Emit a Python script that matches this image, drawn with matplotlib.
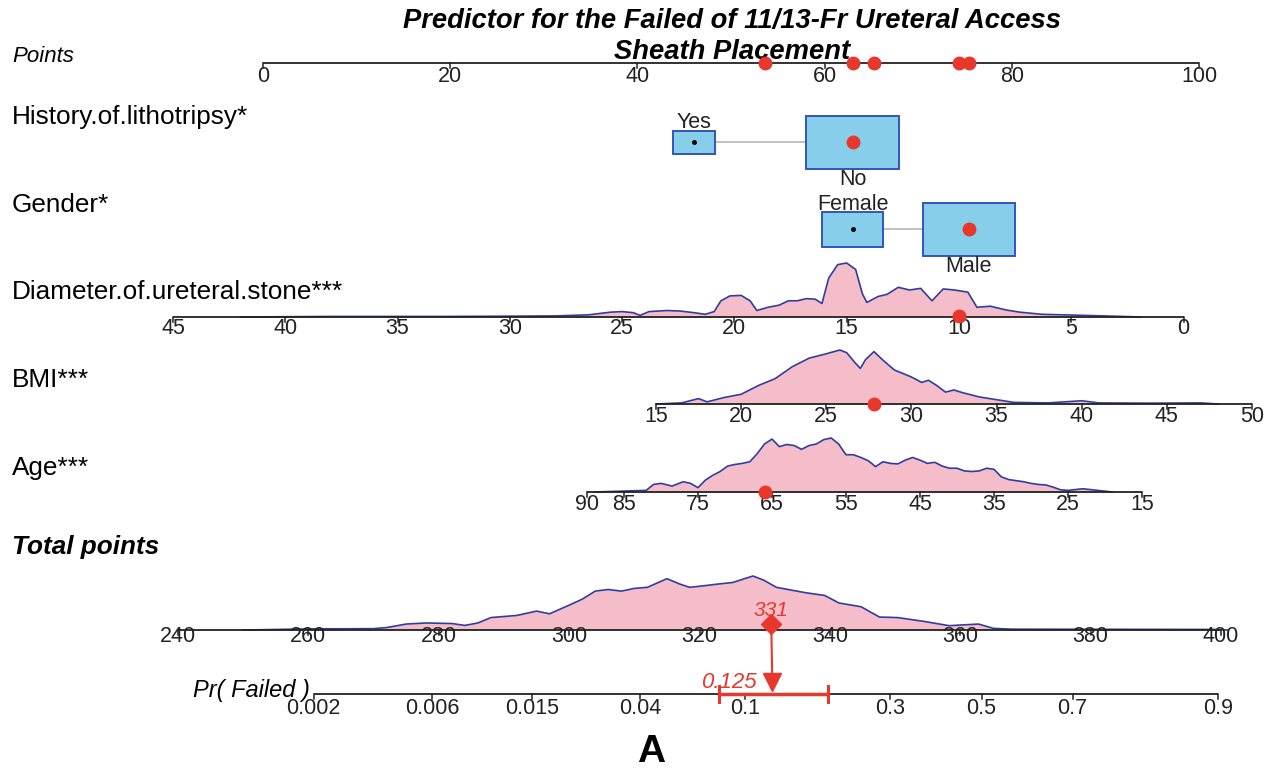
import numpy as np
import matplotlib
matplotlib.use('Agg')
import matplotlib.pyplot as plt
from matplotlib.patches import Rectangle

plt.rcParams['font.family'] = ['Liberation Sans', 'DejaVu Sans']

# ---- values ----
points_ticks = [0, 20, 40, 60, 80, 100]

history_levels = ['Yes', 'No']
history_points = [46.0, 63.0]
gender_levels = ['Female', 'Male']
gender_points = [63.0, 75.4]

diam_ticks = [45, 40, 35, 30, 25, 20, 15, 10, 5, 0]
diam_x = [42, 38, 33, 30, 28, 26.5, 25.5, 25, 24.5, 24.2, 23.8, 23, 22.4, 21.8, 21.3,
          20.9, 20.6, 20.2, 19.7, 19.3, 19.0, 18.5, 18.0, 17.6, 17.2, 16.8, 16.4, 16.1,
          15.8, 15.4, 15.0, 14.6, 14.3, 14.1, 13.6, 13.2, 12.7, 12.2, 11.7, 11.2, 10.7,
          10.2, 9.6, 9.2, 8.6, 7.9, 7.3, 6.3, 4.4, 1.9]
diam_dens = [0.0, 0.01, 0.01, 0.015, 0.02, 0.04, 0.09, 0.1, 0.08, 0.03, 0.1, 0.12, 0.11, 0.08, 0.05,
             0.1, 0.3, 0.39, 0.4, 0.3, 0.12, 0.18, 0.22, 0.3, 0.3, 0.34, 0.33, 0.25,
             0.72, 0.97, 1.0, 0.88, 0.43, 0.27, 0.38, 0.42, 0.55, 0.5, 0.53, 0.3, 0.52,
             0.5, 0.46, 0.18, 0.2, 0.13, 0.09, 0.05, 0.03, 0.0]

bmi_ticks = [15, 20, 25, 30, 35, 40, 45, 50]
bmi_x = [15, 16.5, 17.5, 18, 19, 20, 21, 22, 23, 24, 25, 25.8, 26.2, 26.7, 27, 27.3, 27.8,
         28.3, 29, 30, 30.6, 31, 31.5, 32, 32.5, 33, 34, 35, 36, 38, 40, 41, 44, 47, 48]
bmi_dens = [0.0, 0.02, 0.1, 0.04, 0.12, 0.18, 0.34, 0.47, 0.69, 0.85, 0.93, 1.0, 0.95, 0.76,
            0.66, 0.82, 0.97, 0.82, 0.63, 0.5, 0.4, 0.44, 0.34, 0.22, 0.26, 0.21, 0.13, 0.08,
            0.03, 0.02, 0.06, 0.02, 0.015, 0.02, 0.0]

age_ticks = [90, 85, 75, 65, 55, 45, 35, 25, 15]
age_x = [89, 82, 81, 80, 78.5, 77, 76, 75, 74, 73, 72, 71, 70, 69, 68, 67, 66, 65, 64, 63, 62,
         61, 60, 59, 58, 57, 56, 55, 54, 53, 52, 51, 50, 49, 48, 47, 46, 45, 44, 43, 42, 41,
         40, 39, 38, 37, 36, 35, 34, 33, 32, 31, 30, 29, 28, 27, 26, 25, 23, 21, 19]
age_dens = [0.0, 0.03, 0.14, 0.16, 0.11, 0.19, 0.16, 0.08, 0.22, 0.31, 0.38, 0.48, 0.51, 0.53,
            0.56, 0.71, 0.89, 0.98, 0.84, 0.88, 0.86, 0.79, 0.86, 0.89, 0.97, 1.0, 0.89, 0.69,
            0.69, 0.64, 0.58, 0.47, 0.56, 0.53, 0.52, 0.59, 0.64, 0.59, 0.53, 0.55, 0.48, 0.44,
            0.44, 0.39, 0.38, 0.39, 0.44, 0.42, 0.28, 0.23, 0.21, 0.19, 0.16, 0.14, 0.13, 0.09,
            0.04, 0.03, 0.06, 0.03, 0.0]

total_ticks = [240, 260, 280, 300, 320, 340, 360, 380, 400]
total_x = [250, 260, 270, 272, 275, 278, 282, 284, 286, 288, 292, 295, 297, 300, 302, 304, 306,
           308, 310, 312, 315, 317, 318.5, 320, 322.8, 325.1, 328.2, 329.9, 331.8, 336.3, 339.2,
           341.4, 344.8, 347.6, 350.4, 354.4, 358.3, 362.8, 365.1, 367.9, 398.9, 401]
total_dens = [0.0, 0.02, 0.025, 0.045, 0.11, 0.13, 0.12, 0.085, 0.13, 0.23, 0.27, 0.35, 0.30,
              0.46, 0.57, 0.72, 0.75, 0.72, 0.77, 0.79, 0.95, 0.85, 0.79, 0.81, 0.85, 0.88, 1.0,
              0.92, 0.79, 0.69, 0.64, 0.50, 0.43, 0.24, 0.23, 0.16, 0.08, 0.11, 0.03, 0.015,
              0.01, 0.0]

pr_ticks = [0.002, 0.006, 0.015, 0.04, 0.1, 0.3, 0.5, 0.7, 0.9]

# the patient marked in red
pt_history = 'No'
pt_gender = 'Male'
pt_diam = 10
pt_bmi = 27.8
pt_age = 66
pt_total = 331
pt_pr = 0.125
pt_pr_ci = (0.080, 0.193)

# ---- layout (pixel canvas) ----
RED = '#E8372C'
BLUE = '#2E3D9E'
PINK = '#F5BCC9'
BOXFILL = '#87CEEB'
BOXEDGE = '#3355B5'
TICK_FS = 15.5
LAB_FS = 18.8
DENS_H = 54


def lin(v0, x0, v1, x1):
    return lambda v: x0 + (np.asarray(v, float) - v0) * (x1 - x0) / (v1 - v0)


def logit(p):
    p = np.asarray(p, float)
    return np.log(p / (1 - p))


pts_f = lin(0, 263, 100, 1199)
diam_f = lin(45, 173, 0, 1183.5)
bmi_f = lin(15, 656, 50, 1252)
age_f = lin(90, 587, 15, 1142)
tot_f = lin(240, 178, 400, 1221)
pr_f = lambda p: 981.5 + 107.5 * logit(p)

fig = plt.figure(figsize=(12.73, 7.71), dpi=100)
ax = fig.add_axes([0, 0, 1, 1])
ax.set_xlim(0, 1273)
ax.set_ylim(771, 0)
ax.axis('off')


def draw_axis(f, y, ticks, labels=None, ly=None, x0=None, x1=None):
    if labels is None:
        labels = [str(t) for t in ticks]
    xs = f(ticks)
    a = xs.min() if x0 is None else x0
    b = xs.max() if x1 is None else x1
    ax.plot([a, b], [y, y], color='#222222', lw=1.3, zorder=3, solid_capstyle='butt')
    for xx, lab in zip(xs, labels):
        ax.plot([xx, xx], [y, y + 5], color='#222222', lw=1.1, zorder=3)
        ax.text(xx, ly, lab, ha='center', va='center', fontsize=TICK_FS, color='#222222')


def draw_density(f, y, xv, dv):
    xs = f(xv)
    ys = y - np.asarray(dv) * DENS_H
    ax.fill_between(xs, ys, y, color=PINK, lw=0, zorder=1)
    ax.plot(xs, ys, color=BLUE, lw=1.2, zorder=2)


# title
ax.text(732, 21, 'Predictor for the Failed of 11/13-Fr Ureteral Access', ha='center', va='center',
        fontsize=19.7, fontweight='bold', fontstyle='italic', zorder=2)
ax.text(732, 52, 'Sheath Placement', ha='center', va='center',
        fontsize=19.7, fontweight='bold', fontstyle='italic', zorder=2)

# row labels
ax.text(12, 56, 'Points', fontsize=16, fontstyle='italic', va='center')
ax.text(12, 117, 'History.of.lithotripsy*', fontsize=LAB_FS, va='center')
ax.text(12, 205, 'Gender*', fontsize=LAB_FS, va='center')
ax.text(12, 292, 'Diameter.of.ureteral.stone***', fontsize=LAB_FS, va='center')
ax.text(12, 380, 'BMI***', fontsize=LAB_FS, va='center')
ax.text(12, 468, 'Age***', fontsize=LAB_FS, va='center')
ax.text(12, 547, 'Total points', fontsize=LAB_FS, fontweight='bold', fontstyle='italic', va='center')
ax.text(193, 691, 'Pr( Failed )', fontsize=17, fontstyle='italic', va='center')

# points scale
draw_axis(pts_f, 63, points_ticks, ly=77)

# categorical rows: boxes
box_w = {'Yes': 42, 'No': 93, 'Female': 61, 'Male': 92}
box_h = {'Yes': 23, 'No': 53, 'Female': 35, 'Male': 53}


def draw_boxes(levels, pts, y, chosen, label_pos):
    xs = pts_f(pts)
    ax.plot(xs, [y, y], color='#BBBBBB', lw=1.3, zorder=1)
    for xx, lev, pos in zip(xs, levels, label_pos):
        w, h = box_w[lev], box_h[lev]
        ax.add_patch(Rectangle((xx - w / 2, y - h / 2), w, h, facecolor=BOXFILL,
                               edgecolor=BOXEDGE, lw=1.4, zorder=2))
        ly = y - h / 2 - 7.5 if pos == 'above' else y + h / 2 + 11
        ax.text(xx, ly, lev, ha='center', va='center', fontsize=15.5, color='#222222', zorder=4)
        if lev == chosen:
            ax.plot(xx, y, 'o', color=RED, ms=9, zorder=5)
        else:
            ax.plot(xx, y, 'o', color='black', ms=2.5, zorder=5)
    return xs[levels.index(chosen)]


hx = draw_boxes(history_levels, history_points, 142, pt_history, ['above', 'below'])
gx = draw_boxes(gender_levels, gender_points, 229, pt_gender, ['above', 'below'])

# continuous rows
draw_density(diam_f, 317, diam_x, diam_dens)
draw_axis(diam_f, 317, diam_ticks, ly=329)
dx = float(diam_f(pt_diam))
ax.plot(dx, 316, 'o', color=RED, ms=9, zorder=5)

draw_density(bmi_f, 404, bmi_x, bmi_dens)
draw_axis(bmi_f, 404, bmi_ticks, ly=416)
bx = float(bmi_f(pt_bmi))
ax.plot(bx, 404, 'o', color=RED, ms=9, zorder=5)

draw_density(age_f, 492, age_x, age_dens)
draw_axis(age_f, 492, age_ticks, ly=504)
axx = float(age_f(pt_age))
ax.plot(axx, 492, 'o', color=RED, ms=9, zorder=5)

# red dots on the points scale
for xx in [hx, gx, dx, bx, axx]:
    ax.plot(xx, 63, 'o', color=RED, ms=9, zorder=6)

# total points
draw_density(tot_f, 630, total_x, total_dens)
draw_axis(tot_f, 630, total_ticks, ly=637)
tx = float(tot_f(pt_total))
ax.text(tx, 611, str(pt_total), ha='center', va='center', fontsize=15, fontstyle='italic',
        color=RED, zorder=6)

# probability scale
draw_axis(pr_f, 694, pr_ticks, labels=[('%g' % p) for p in pr_ticks], ly=709)
px = float(pr_f(pt_pr))
ax.plot([tx, px], [624, 680], color=RED, lw=1.5, zorder=6)
ax.plot(tx, 624, 'D', color=RED, ms=10, zorder=7)
ax.plot(px, 682, 'v', color=RED, ms=13, zorder=7)
c0, c1 = float(pr_f(pt_pr_ci[0])), float(pr_f(pt_pr_ci[1]))
ax.plot([c0, c1], [694, 694], color=RED, lw=2.5, zorder=6)
for cc in (c0, c1):
    ax.plot([cc, cc], [686, 702], color=RED, lw=2.2, zorder=6)
ax.text(757, 682, '%g' % pt_pr, ha='right', va='center', fontsize=16, fontstyle='italic',
        color=RED, zorder=7)

# panel letter
ax.text(651, 752, 'A', ha='center', va='center', fontsize=28, fontweight='bold')

fig.savefig('out.png', dpi=100)
